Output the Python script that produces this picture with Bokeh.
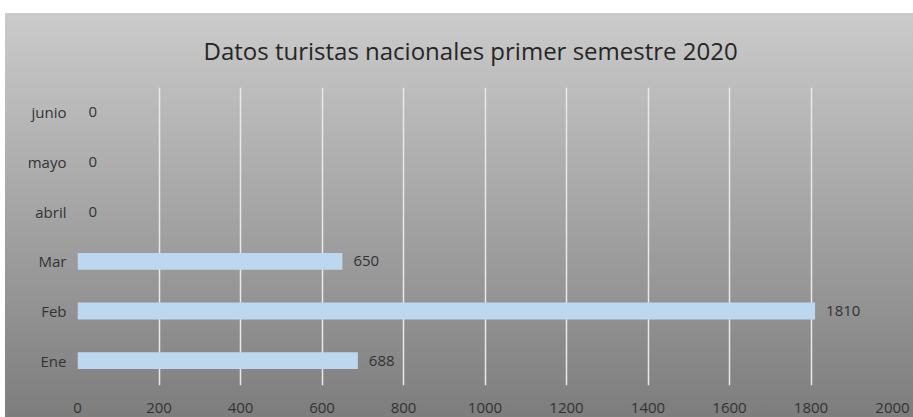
from bokeh.plotting import figure
from bokeh.models import FactorRange, ColumnDataSource, Range1d, FixedTicker
from bokeh.core.properties import value
from bokeh.embed import file_html
from bokeh.resources import INLINE

# Data (bottom to top order on the chart)
months = ["Ene", "Feb", "Mar", "abril", "mayo", "junio"]
tourists = [688, 1810, 650, 0, 0, 0]
x_ticks = [0, 200, 400, 600, 800, 1000, 1200, 1400, 1600, 1800, 2000]
title_text = "Datos turistas nacionales primer semestre 2020"

src = ColumnDataSource(dict(month=months, value=tourists,
                            label=[str(v) for v in tourists]))

FONT = "Open Sans"
TXT = "#333333"

p = figure(width=913, height=422, output_backend="svg", toolbar_location=None,
           y_range=FactorRange(factors=months, range_padding=0),
           x_range=Range1d(0, 2000),
           min_border_left=77, min_border_right=21,
           min_border_top=87, min_border_bottom=37,
           title=title_text)

p.styles = {
    "background": ("linear-gradient(to right, #ffffff 0px, #ffffff 5px, rgba(255,255,255,0) 5px), "
                   "linear-gradient(to bottom, #ffffff 0px, #ffffff 13px, #cbcbcb 13px, #7c7c7c 100%)"),
    "margin-bottom": "-13px",
}
p.border_fill_alpha = 0
p.background_fill_alpha = 0
p.outline_line_color = None

p.hbar(y="month", right="value", left=0, height=0.34, source=src,
       fill_color="#bdd7ee", line_color=None)

p.text(x="value", y="month", text="label", source=src,
       x_offset=11, text_align="left", text_baseline="middle",
       text_font=value(FONT), text_font_size="15px",
       text_color=TXT)

# Title
p.title.text_font = FONT
p.title.text_font_size = "24px"
p.title.text_font_style = "normal"
p.title.text_color = "#262626"
p.title.align = "left"
p.title.standoff = 42
p.title.offset = 126

# Grid
p.ygrid.grid_line_color = None
p.xgrid.grid_line_color = "#e9e9e9"
p.xgrid.grid_line_width = 1.5
p.xgrid.ticker = FixedTicker(ticks=x_ticks)

# Axes
p.xaxis.ticker = FixedTicker(ticks=x_ticks)
for ax in (p.xaxis[0], p.yaxis[0]):
    ax.axis_line_color = None
    ax.major_tick_line_color = None
    ax.minor_tick_line_color = None
    ax.major_tick_in = 0
    ax.major_tick_out = 0
    ax.major_label_text_font = FONT
    ax.major_label_text_font_size = "15px"
    ax.major_label_text_color = TXT
p.yaxis.major_label_standoff = 11
p.xaxis.major_label_standoff = 17

open("out.html", "w").write(file_html(p, INLINE))
